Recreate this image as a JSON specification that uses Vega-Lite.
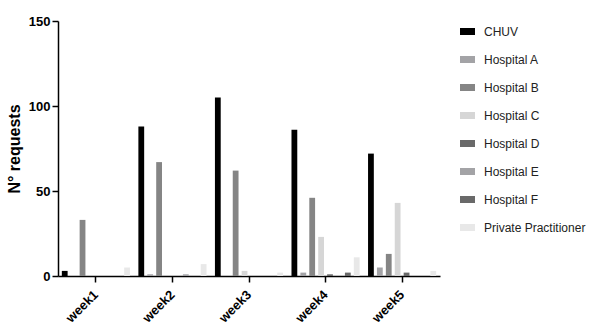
{
  "$schema": "https://vega.github.io/schema/vega-lite/v6.json",
  "autosize": "none",
  "width": 382,
  "height": 255,
  "padding": {"left": 58, "top": 21, "right": 150, "bottom": 57},
  "background": "white",
  "config": {
    "view": {"stroke": null},
    "font": "Liberation Sans"
  },
  "data": {
    "values": [
      {"week": "week1", "source": "CHUV", "n": 3},
      {"week": "week1", "source": "Hospital A", "n": 0},
      {"week": "week1", "source": "Hospital B", "n": 33},
      {"week": "week1", "source": "Hospital C", "n": 0},
      {"week": "week1", "source": "Hospital D", "n": 0},
      {"week": "week1", "source": "Hospital E", "n": 0},
      {"week": "week1", "source": "Hospital F", "n": 0},
      {"week": "week1", "source": "Private Practitioner", "n": 5},
      {"week": "week2", "source": "CHUV", "n": 88},
      {"week": "week2", "source": "Hospital A", "n": 1},
      {"week": "week2", "source": "Hospital B", "n": 67},
      {"week": "week2", "source": "Hospital C", "n": 0},
      {"week": "week2", "source": "Hospital D", "n": 0},
      {"week": "week2", "source": "Hospital E", "n": 1},
      {"week": "week2", "source": "Hospital F", "n": 0},
      {"week": "week2", "source": "Private Practitioner", "n": 7},
      {"week": "week3", "source": "CHUV", "n": 105},
      {"week": "week3", "source": "Hospital A", "n": 0},
      {"week": "week3", "source": "Hospital B", "n": 62},
      {"week": "week3", "source": "Hospital C", "n": 3},
      {"week": "week3", "source": "Hospital D", "n": 0},
      {"week": "week3", "source": "Hospital E", "n": 0},
      {"week": "week3", "source": "Hospital F", "n": 0},
      {"week": "week3", "source": "Private Practitioner", "n": 2},
      {"week": "week4", "source": "CHUV", "n": 86},
      {"week": "week4", "source": "Hospital A", "n": 2},
      {"week": "week4", "source": "Hospital B", "n": 46},
      {"week": "week4", "source": "Hospital C", "n": 23},
      {"week": "week4", "source": "Hospital D", "n": 1},
      {"week": "week4", "source": "Hospital E", "n": 0},
      {"week": "week4", "source": "Hospital F", "n": 2},
      {"week": "week4", "source": "Private Practitioner", "n": 11},
      {"week": "week5", "source": "CHUV", "n": 72},
      {"week": "week5", "source": "Hospital A", "n": 5},
      {"week": "week5", "source": "Hospital B", "n": 13},
      {"week": "week5", "source": "Hospital C", "n": 43},
      {"week": "week5", "source": "Hospital D", "n": 2},
      {"week": "week5", "source": "Hospital E", "n": 0},
      {"week": "week5", "source": "Hospital F", "n": 0},
      {"week": "week5", "source": "Private Practitioner", "n": 3}
    ]
  },
  "mark": {"type": "bar"},
  "encoding": {
    "x": {
      "field": "week",
      "type": "nominal",
      "scale": {"paddingInner": 0.11, "paddingOuter": 0.05},
      "axis": {
        "title": null,
        "labelAngle": -45,
        "labelFont": "Liberation Sans",
        "labelFontWeight": "bold",
        "labelFontSize": 13,
        "labelColor": "black",
        "labelPadding": 6,
        "labelOffset": -4,
        "tickSize": 6,
        "tickColor": "black",
        "tickWidth": 1.5,
        "domainColor": "black",
        "domainWidth": 1.5
      }
    },
    "xOffset": {
      "field": "source",
      "type": "nominal",
      "scale": {"paddingInner": 0.35, "paddingOuter": 0}
    },
    "y": {
      "field": "n",
      "type": "quantitative",
      "scale": {"domain": [0, 150], "nice": false},
      "axis": {
        "title": "N° requests",
        "titleFont": "Liberation Sans",
        "titleFontWeight": "bold",
        "titleFontSize": 16,
        "titleColor": "black",
        "titlePadding": 6,
        "values": [0, 50, 100, 150],
        "grid": false,
        "labelFont": "Liberation Sans",
        "labelFontWeight": "bold",
        "labelFontSize": 13,
        "labelColor": "black",
        "labelPadding": 2,
        "tickSize": 6,
        "tickColor": "black",
        "tickWidth": 1.5,
        "domainColor": "black",
        "domainWidth": 1.5
      }
    },
    "color": {
      "field": "source",
      "type": "nominal",
      "scale": {
        "domain": ["CHUV", "Hospital A", "Hospital B", "Hospital C", "Hospital D", "Hospital E", "Hospital F", "Private Practitioner"],
        "range": ["#000000", "#a3a3a6", "#858585", "#d6d6d6", "#696969", "#a3a3a6", "#696969", "#e8e8e8"]
      },
      "legend": {
        "title": null,
        "orient": "none",
        "legendX": 402,
        "legendY": 3,
        "symbolType": "M-1,-0.47H1V0.47H-1Z",
        "symbolSize": 225,
        "symbolStrokeWidth": 0,
        "labelFont": "Liberation Sans",
        "labelFontSize": 12,
        "labelColor": "#222222",
        "labelOffset": 9,
        "rowPadding": 14
      }
    }
  }
}
